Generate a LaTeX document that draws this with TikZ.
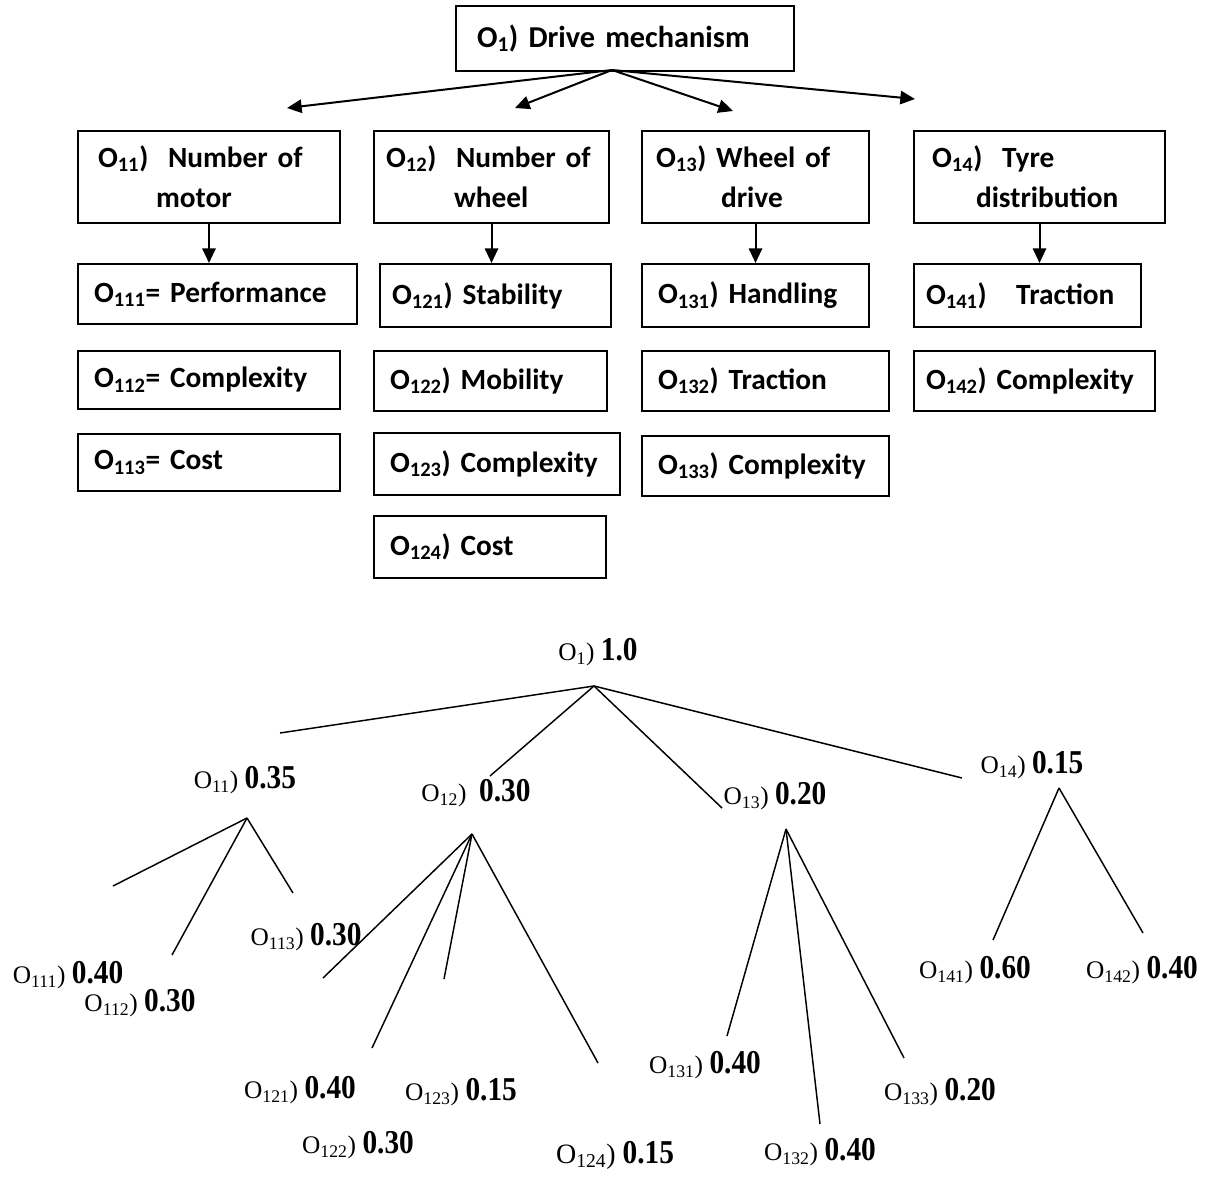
\documentclass[tikz,border=0pt]{standalone}
\usepackage{fontspec}
\usetikzlibrary{arrows.meta}
\newfontfamily\cali{Carlito}
\newfontfamily\tnr{Liberation Serif}
\newfontfamily\tnrb{Liberation Serif Bold}[FakeStretch=0.88]
\newcommand\wnum[1]{{\tnrb\fontsize{25}{28}\selectfont #1}}
\begin{document}
\begin{tikzpicture}[x=0.75pt,y=-0.75pt,
  box/.style={draw, line width=1.5pt, anchor=north west, inner ysep=0pt,
    font=\cali\bfseries\fontsize{22}{30}\selectfont},
  hbox/.style={box, align=left},
  lbox/.style={box, inner xsep=12pt, align=left},
  arr/.style={line width=1.5pt, -{Triangle[length=11pt,width=10pt]}},
  wl/.style={font=\tnr\fontsize{19}{22}\selectfont, inner sep=0pt},
  tl/.style={line width=1.1pt}]
\useasboundingbox (0,0) rectangle (1212,1187);

% ---------- top hierarchy ----------
\node[box, inner xsep=15.75pt, align=left, text width=222pt, minimum height=48.75pt,
  font=\cali\bfseries\fontsize{22.75}{30}\selectfont] (o1) at (455,5)
  {O\textsubscript{1}) Drive mechanism};

\node[hbox, inner xsep=15pt, text width=166.5pt, minimum height=69pt] (o11) at (77,130)
  {O\textsubscript{11})\ \ Number of\\ \hspace*{43.5pt}motor};
\node[hbox, inner xsep=9pt, text width=158.25pt, minimum height=69pt] (o12) at (373,130)
  {O\textsubscript{12})\ \ Number of\\ \hspace*{51pt}wheel};
\node[hbox, inner xsep=10.5pt, text width=149.25pt, minimum height=69pt] (o13) at (641,130)
  {O\textsubscript{13}) Wheel of\\ \hspace*{48.75pt}drive};
\node[hbox, inner xsep=13.5pt, text width=161.25pt, minimum height=69pt] (o14) at (913,130)
  {O\textsubscript{14})\ \ Tyre\\ \hspace*{33pt}distribution};

\node[lbox, text width=185.25pt, minimum height=45pt] (o111) at (77,263)
  {O\textsubscript{111}= Performance};
\node[lbox, text width=172.5pt, minimum height=43.5pt] (o112) at (77,350)
  {O\textsubscript{112}= Complexity};
\node[lbox, text width=172.5pt, minimum height=42.75pt] (o113) at (77,433)
  {O\textsubscript{113}= Cost};

\node[lbox, inner xsep=9pt, text width=155.25pt, minimum height=47.25pt] (o121) at (379,263)
  {O\textsubscript{121}) Stability};
\node[lbox, text width=150.75pt, minimum height=45pt] (o122) at (373,350)
  {O\textsubscript{122}) Mobility};
\node[lbox, text width=160.5pt, minimum height=46.5pt] (o123) at (373,432)
  {O\textsubscript{123}) Complexity};
\node[lbox, text width=150pt, minimum height=46.5pt] (o124) at (373,515)
  {O\textsubscript{124}) Cost};

\node[lbox, text width=146.25pt, minimum height=47.25pt] (o131) at (641,263)
  {O\textsubscript{131}) Handling};
\node[lbox, text width=161.25pt, minimum height=45pt] (o132) at (641,350)
  {O\textsubscript{132}) Traction};
\node[lbox, text width=161.25pt, minimum height=45pt] (o133) at (641,435)
  {O\textsubscript{133}) Complexity};

\node[lbox, inner xsep=9pt, text width=152.25pt, minimum height=47.25pt] (o141) at (913,263)
  {O\textsubscript{141})\ \ \ Traction};
\node[lbox, inner xsep=9pt, text width=162.75pt, minimum height=45pt] (o142) at (913,350)
  {O\textsubscript{142}) Complexity};

\coordinate (hub) at (612,70);
\coordinate (a1) at (287,108);
\coordinate (a2) at (515,108);
\coordinate (a3) at (733,111);
\coordinate (a4) at (915,99);
\draw[arr] (hub) -- (a1);
\draw[arr] (hub) -- (a2);
\draw[arr] (hub) -- (a3);
\draw[arr] (hub) -- (a4);

\draw[arr] (o11.south) -- (o11.south |- o111.north);
\draw[arr] (o12.south) -- (o12.south |- o121.north);
\draw[arr] (o13.south) -- (o13.south |- o131.north);
\draw[arr] (o14.south) -- (o14.south |- o141.north);

% ---------- weight tree ----------
\node[wl] (w1) at (598,652) {O\textsubscript{1}) \wnum{1.0}};
\node[wl] (w11) at (245,780) {O\textsubscript{11}) \wnum{0.35}};
\node[wl] (w12) at (476,793) {O\textsubscript{12})\ \ \wnum{0.30}};
\node[wl] (w13) at (775,796) {O\textsubscript{13}) \wnum{0.20}};
\node[wl] (w14) at (1032,765) {O\textsubscript{14}) \wnum{0.15}};

\node[wl] (w111) at (68,975) {O\textsubscript{111}) \wnum{0.40}};
\node[wl] (w112) at (140,1003) {O\textsubscript{112}) \wnum{0.30}};
\node[wl] (w113) at (306,937) {O\textsubscript{113}) \wnum{0.30}};

\node[wl] (w121) at (300,1090) {O\textsubscript{121}) \wnum{0.40}};
\node[wl] (w122) at (358,1145) {O\textsubscript{122}) \wnum{0.30}};
\node[wl] (w123) at (461,1092) {O\textsubscript{123}) \wnum{0.15}};
\node[wl, font=\tnr\fontsize{21}{24}\selectfont] (w124) at (615,1155) {O\textsubscript{124}) \wnum{0.15}};

\node[wl] (w131) at (705,1065) {O\textsubscript{131}) \wnum{0.40}};
\node[wl] (w132) at (820,1152) {O\textsubscript{132}) \wnum{0.40}};
\node[wl] (w133) at (940,1092) {O\textsubscript{133}) \wnum{0.20}};

\node[wl] (w141) at (975,970) {O\textsubscript{141}) \wnum{0.60}};
\node[wl] (w142) at (1142,970) {O\textsubscript{142}) \wnum{0.40}};

\coordinate (j1) at (594,686);
\coordinate (e11) at (280,733);
\coordinate (e12) at (490,776);
\coordinate (e13) at (722,808);
\coordinate (e14) at (962,778);
\foreach \e in {e11,e12,e13,e14} \draw[tl] (j1) -- (\e);

\coordinate (j11) at (247,818);
\coordinate (e111) at (113,886);
\coordinate (e112) at (172,955);
\coordinate (e113) at (293,893);
\foreach \e in {e111,e112,e113} \draw[tl] (j11) -- (\e);

\coordinate (j12) at (472,834);
\coordinate (e121) at (323,978);
\coordinate (e122) at (372,1048);
\coordinate (e123) at (444,979);
\coordinate (e124) at (598,1063);
\foreach \e in {e121,e122,e123,e124} \draw[tl] (j12) -- (\e);

\coordinate (j13) at (786,829);
\coordinate (e131) at (727,1036);
\coordinate (e132) at (820,1124);
\coordinate (e133) at (904,1058);
\foreach \e in {e131,e132,e133} \draw[tl] (j13) -- (\e);

\coordinate (j14) at (1059,788);
\coordinate (e141) at (993,940);
\coordinate (e142) at (1143,933);
\foreach \e in {e141,e142} \draw[tl] (j14) -- (\e);
\end{tikzpicture}
\end{document}
